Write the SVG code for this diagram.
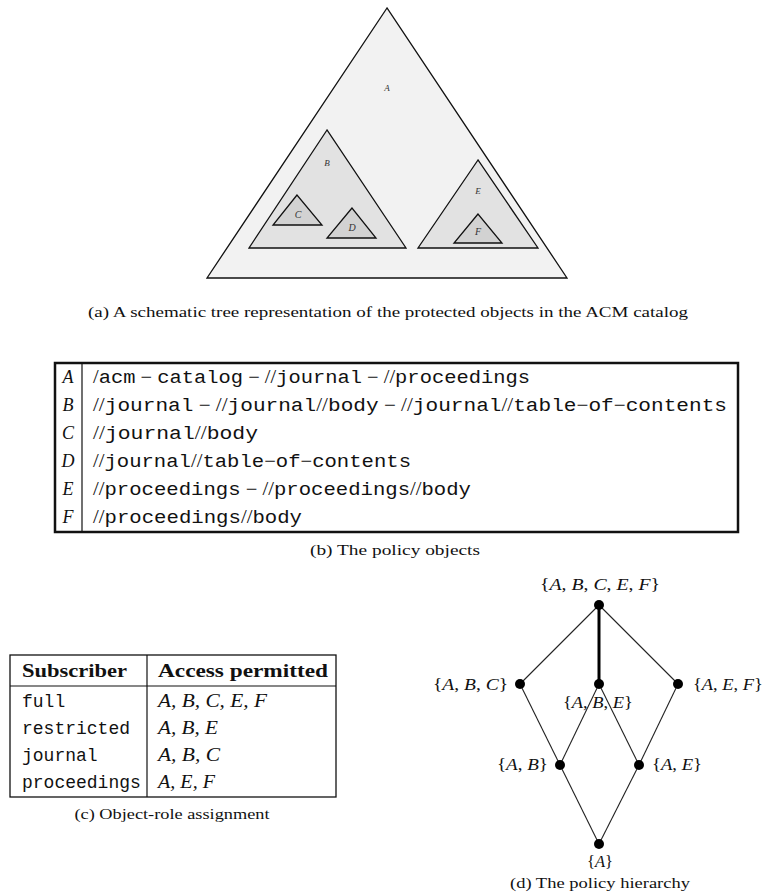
<svg xmlns="http://www.w3.org/2000/svg" width="767" height="896" viewBox="0 0 767 896">
<style>
.bg{fill:#fff}
.tri{stroke:#111;stroke-width:1.3;stroke-linejoin:miter}
.tA{fill:#f2f2f2}
.tB{fill:#e2e2e2}
.tC{fill:#d2d2d2}
.tl{font-family:"Liberation Serif",serif;font-style:italic;fill:#333;text-anchor:middle}
.cap{font-family:"Liberation Serif",serif;font-size:14px;fill:#111}
.mid{text-anchor:middle}
.end{text-anchor:end}
.row{font-family:"Liberation Serif",serif;font-size:18px;fill:#111}
.tt{font-family:"Liberation Mono",monospace}
.it{font-style:italic}
.b{font-weight:bold}
.box{fill:none;stroke:#111}
.edge{stroke:#222;stroke-width:1.1;fill:none}
.thick{stroke:#000;stroke-width:3}
.node{fill:#000}
.lab{font-family:"Liberation Serif",serif;font-size:16px;fill:#111}
</style>
<rect class="bg" x="0" y="0" width="767" height="896"/>

<!-- (a) schematic tree -->
<g id="triA"><polygon class="tri tA" points="387,8 207,278 567,278"/><text class="tl" x="387" y="91" font-size="9">A</text></g>
<g id="triB"><polygon class="tri tB" points="327,130 249,248 406,248"/><text class="tl" x="327" y="166" font-size="9">B</text></g>
<g id="triC"><polygon class="tri tC" points="297,195 273,225 322,225"/><text class="tl" x="298" y="218" font-size="10">C</text></g>
<g id="triD"><polygon class="tri tC" points="352,208 327,238 376,238"/><text class="tl" x="352" y="231" font-size="10">D</text></g>
<g id="triE"><polygon class="tri tB" points="478,160 418,248 538,248"/><text class="tl" x="478" y="194" font-size="9">E</text></g>
<g id="triF"><polygon class="tri tC" points="478,214 454,243 502,243"/><text class="tl" x="478" y="235" font-size="10">F</text></g>
<text class="cap mid" x="388" y="317" textLength="600" lengthAdjust="spacingAndGlyphs">(a) A schematic tree representation of the protected objects in the ACM catalog</text>

<!-- (b) policy objects table -->
<g id="tableB">
<rect class="box" x="55" y="363" width="683" height="169" stroke-width="2.5"/>
<line x1="82" y1="363" x2="82" y2="532" stroke="#111" stroke-width="1.2"/>
<g class="row it mid">
<text x="68" y="383">A</text><text x="68" y="411">B</text><text x="68" y="439">C</text>
<text x="68" y="467">D</text><text x="68" y="495">E</text><text x="68" y="523">F</text>
</g>
<text class="row" x="93" y="383" textLength="437" lengthAdjust="spacingAndGlyphs">/<tspan class="tt">acm</tspan> − <tspan class="tt">catalog</tspan> − //<tspan class="tt">journal</tspan> − //<tspan class="tt">proceedings</tspan></text>
<text class="row" x="93" y="411" textLength="634" lengthAdjust="spacingAndGlyphs">//<tspan class="tt">journal</tspan> − //<tspan class="tt">journal</tspan>//<tspan class="tt">body</tspan> − //<tspan class="tt">journal</tspan>//<tspan class="tt">table</tspan>−<tspan class="tt">of</tspan>−<tspan class="tt">contents</tspan></text>
<text class="row" x="93" y="439" textLength="165" lengthAdjust="spacingAndGlyphs">//<tspan class="tt">journal</tspan>//<tspan class="tt">body</tspan></text>
<text class="row" x="93" y="467" textLength="318" lengthAdjust="spacingAndGlyphs">//<tspan class="tt">journal</tspan>//<tspan class="tt">table</tspan>−<tspan class="tt">of</tspan>−<tspan class="tt">contents</tspan></text>
<text class="row" x="93" y="495" textLength="378" lengthAdjust="spacingAndGlyphs">//<tspan class="tt">proceedings</tspan> − //<tspan class="tt">proceedings</tspan>//<tspan class="tt">body</tspan></text>
<text class="row" x="93" y="523" textLength="209" lengthAdjust="spacingAndGlyphs">//<tspan class="tt">proceedings</tspan>//<tspan class="tt">body</tspan></text>
</g>
<text class="cap mid" x="395" y="555" textLength="170" lengthAdjust="spacingAndGlyphs">(b) The policy objects</text>

<!-- (c) object-role assignment table -->
<g id="tableC">
<rect class="box" x="10" y="655" width="326" height="142" stroke-width="1.3"/>
<line x1="147" y1="655" x2="147" y2="797" stroke="#111" stroke-width="1.2"/>
<line x1="10" y1="686" x2="336" y2="686" stroke="#111" stroke-width="1.2"/>
<text class="row b" x="22" y="677" font-size="17" textLength="105" lengthAdjust="spacingAndGlyphs">Subscriber</text>
<text class="row b" x="158" y="677" font-size="17" textLength="170" lengthAdjust="spacingAndGlyphs">Access permitted</text>
<g class="row tt" font-size="17">
<text x="22" y="707">full</text>
<text x="22" y="734">restricted</text>
<text x="22" y="761">journal</text>
<text x="22" y="788">proceedings</text>
</g>
<g class="row it" font-size="17">
<text x="158" y="707" textLength="109" lengthAdjust="spacingAndGlyphs">A, B, C, E, F</text>
<text x="158" y="734" textLength="60" lengthAdjust="spacingAndGlyphs">A, B, E</text>
<text x="158" y="761" textLength="62" lengthAdjust="spacingAndGlyphs">A, B, C</text>
<text x="158" y="788" textLength="57" lengthAdjust="spacingAndGlyphs">A, E, F</text>
</g>
</g>
<text class="cap mid" x="172" y="819" textLength="195" lengthAdjust="spacingAndGlyphs">(c) Object-role assignment</text>

<!-- (d) policy hierarchy -->
<g id="edges">
<line class="edge" x1="599" y1="605" x2="520" y2="684"/>
<line class="edge" x1="599" y1="605" x2="678" y2="684"/>
<line class="edge thick" x1="599" y1="605" x2="599" y2="684"/>
<line class="edge" x1="520" y1="684" x2="560" y2="765"/>
<line class="edge" x1="599" y1="684" x2="560" y2="765"/>
<line class="edge" x1="599" y1="684" x2="639" y2="765"/>
<line class="edge" x1="678" y1="684" x2="639" y2="765"/>
<line class="edge" x1="560" y1="765" x2="599" y2="844"/>
<line class="edge" x1="639" y1="765" x2="599" y2="844"/>
</g>
<g id="nABCEF"><circle class="node" cx="599" cy="605" r="5"/><text class="lab mid" x="600" y="590" textLength="120" lengthAdjust="spacingAndGlyphs">{<tspan class="it">A</tspan>, <tspan class="it">B</tspan>, <tspan class="it">C</tspan>, <tspan class="it">E</tspan>, <tspan class="it">F</tspan>}</text></g>
<g id="nABC"><circle class="node" cx="520" cy="684" r="5"/><text class="lab end" x="508" y="690" textLength="75" lengthAdjust="spacingAndGlyphs">{<tspan class="it">A</tspan>, <tspan class="it">B</tspan>, <tspan class="it">C</tspan>}</text></g>
<g id="nABE"><circle class="node" cx="599" cy="684" r="5"/><text class="lab" x="563" y="708" textLength="70" lengthAdjust="spacingAndGlyphs">{<tspan class="it">A</tspan>, <tspan class="it">B</tspan>, <tspan class="it">E</tspan>}</text></g>
<g id="nAEF"><circle class="node" cx="678" cy="684" r="5"/><text class="lab" x="693" y="690" textLength="70" lengthAdjust="spacingAndGlyphs">{<tspan class="it">A</tspan>, <tspan class="it">E</tspan>, <tspan class="it">F</tspan>}</text></g>
<g id="nAB"><circle class="node" cx="560" cy="765" r="5"/><text class="lab end" x="548" y="770" textLength="51" lengthAdjust="spacingAndGlyphs">{<tspan class="it">A</tspan>, <tspan class="it">B</tspan>}</text></g>
<g id="nAE"><circle class="node" cx="639" cy="765" r="5"/><text class="lab" x="652" y="770" textLength="50" lengthAdjust="spacingAndGlyphs">{<tspan class="it">A</tspan>, <tspan class="it">E</tspan>}</text></g>
<g id="nA"><circle class="node" cx="599" cy="844" r="5"/><text class="lab mid" x="600" y="867" textLength="26" lengthAdjust="spacingAndGlyphs">{<tspan class="it">A</tspan>}</text></g>
<text class="cap mid" x="600" y="888" textLength="180" lengthAdjust="spacingAndGlyphs">(d) The policy hierarchy</text>
</svg>
